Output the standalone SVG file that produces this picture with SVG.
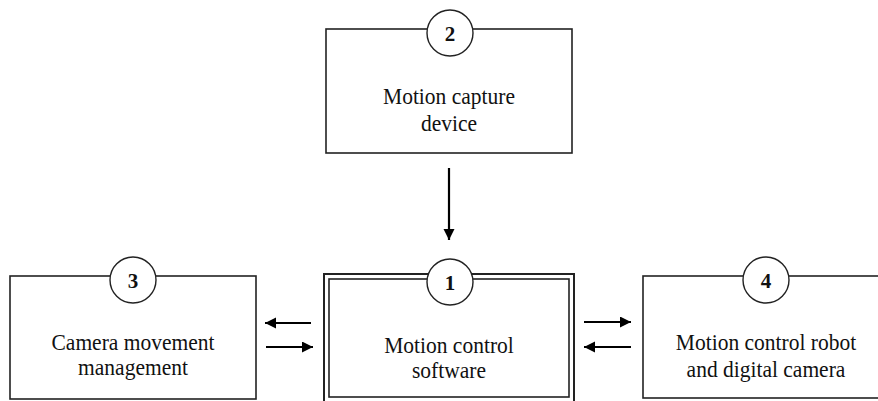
<svg xmlns="http://www.w3.org/2000/svg" width="878" height="401" viewBox="0 0 878 401">
<style>
.box{fill:#fff;stroke:#222;stroke-width:1.6}
.outer{fill:#fff;stroke:#222;stroke-width:2}
.inner{fill:none;stroke:#222;stroke-width:1.6}
.num{fill:#fff;stroke:#222;stroke-width:1.4}
.lbl{font-family:"Liberation Serif","Times New Roman",serif;font-size:23.5px;fill:#111;text-anchor:middle}
.dig{font-family:"Liberation Serif","Times New Roman",serif;font-size:21px;font-weight:bold;fill:#111;text-anchor:middle}
.arr{stroke:#000;stroke-width:2.2;fill:none;marker-end:url(#ah)}
</style>
<defs>
<marker id="ah" markerUnits="userSpaceOnUse" markerWidth="12" markerHeight="12" refX="11" refY="5.5" orient="auto">
<path d="M0,0 L11,5.5 L0,11 Z" fill="#000"/>
</marker>
</defs>
<g id="node2">
<rect class="box" x="326" y="29" width="246" height="124"/>
<circle class="num" cx="450" cy="33" r="23"/>
<text class="dig" x="450" y="41">2</text>
<g transform="matrix(0.915,0,0,1,38.16,0)">
<text class="lbl" x="449" y="104">Motion capture</text>
<text class="lbl" x="449" y="131">device</text>
</g>
</g>
<g id="node3">
<rect class="box" x="10" y="276" width="246" height="123"/>
<circle class="num" cx="133" cy="280" r="23"/>
<text class="dig" x="133" y="288">3</text>
<g transform="matrix(0.915,0,0,1,11.3,0)">
<text class="lbl" x="133" y="350">Camera movement</text>
<text class="lbl" x="133" y="375">management</text>
</g>
</g>
<g id="node1">
<rect class="outer" x="324" y="274" width="250" height="140"/>
<rect class="inner" x="329" y="279" width="240" height="118"/>
<circle class="num" cx="450" cy="282" r="23"/>
<text class="dig" x="450" y="290">1</text>
<g transform="matrix(0.915,0,0,1,38.16,0)">
<text class="lbl" x="449" y="353">Motion control</text>
<text class="lbl" x="449" y="378">software</text>
</g>
</g>
<g id="node4">
<rect class="box" x="643" y="276" width="240" height="122"/>
<circle class="num" cx="766" cy="280" r="23"/>
<text class="dig" x="766" y="288">4</text>
<g transform="matrix(0.915,0,0,1,65.11,0)">
<text class="lbl" x="766" y="350">Motion control robot</text>
<text class="lbl" x="766" y="377">and digital camera</text>
</g>
</g>
<g id="connectors">
<line class="arr" x1="449" y1="168" x2="449" y2="240"/>
<line class="arr" x1="311" y1="323" x2="265" y2="323"/>
<line class="arr" x1="266" y1="347" x2="313" y2="347"/>
<line class="arr" x1="584" y1="322" x2="631" y2="322"/>
<line class="arr" x1="631" y1="347" x2="584" y2="347"/>
</g>
</svg>
